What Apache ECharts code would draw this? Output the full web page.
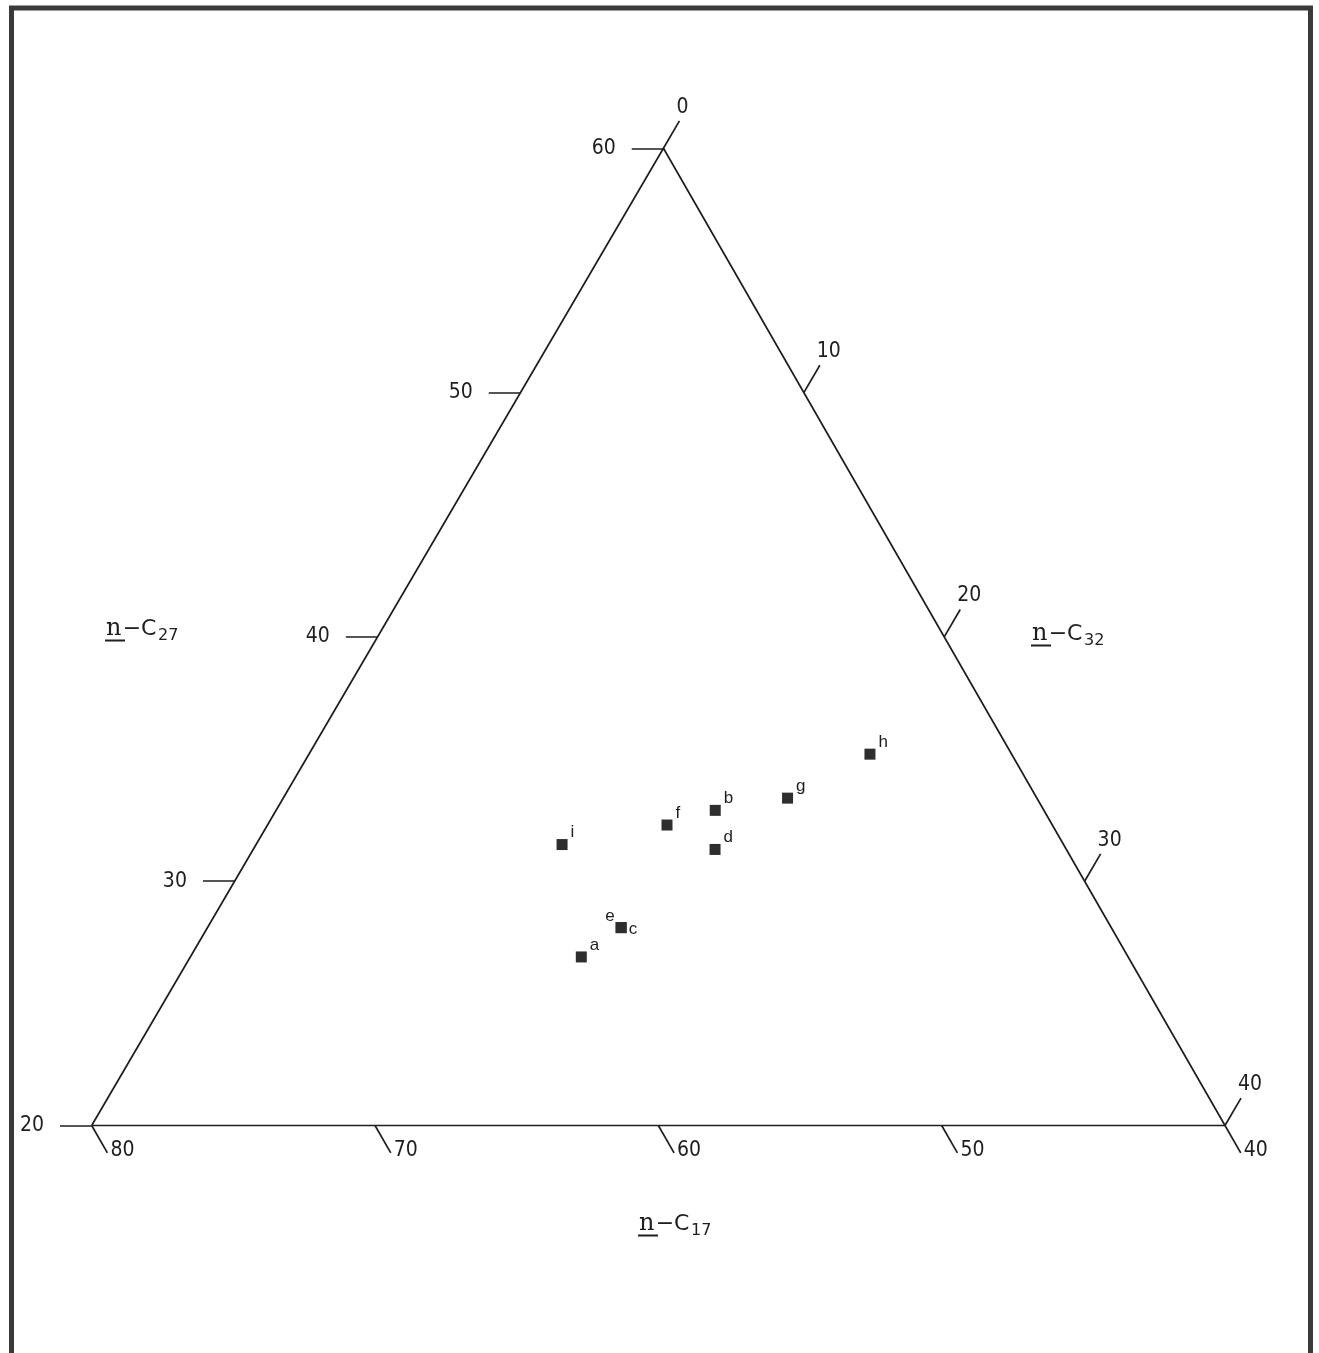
<!DOCTYPE html>
<html>
<head>
<meta charset="utf-8">
<title>Ternary plot n-C17 / n-C27 / n-C32</title>
<script src="https://cdn.jsdelivr.net/npm/echarts@6/dist/echarts.min.js"></script>
<style>
  html, body { margin: 0; padding: 0; background: #fff; }
  #chart { width: 1319px; height: 1353px; }
</style>
</head>
<body>
<div id="chart"></div>
<script>
// sample composition (% of n-C17 + n-C27 + n-C32)
var sampleNames = ['a', 'b', 'c', 'd', 'e', 'f', 'g', 'h', 'i'];
var c17 = [59.3, 51.6, 57.3, 52.4, 57.3, 53.6, 48.8, 45.0, 57.7];
var c27 = [26.9, 32.9, 28.1, 31.3, 28.1, 32.3, 33.4, 35.2, 31.5];
var c32 = [13.8, 15.5, 14.6, 16.3, 14.6, 14.1, 17.8, 19.8, 10.8];

// axis ticks on each side of the triangle
var c17Ticks = [80, 70, 60, 50, 40];
var c27Ticks = [20, 30, 40, 50, 60];
var c32Ticks = [0, 10, 20, 30, 40];

var TICK = 1.12;
var SKEW = 0.5045;   // the printed triangle leans a little to the right
var INK = '#1e1e1e';
var NUM_FONT = "'Liberation Sans Narrow', 'DejaVu Sans Condensed', 'Liberation Sans', sans-serif";

// ternary (c27, c32) -> cartesian; the c17 share is what is left of 100
function toXY(b, c) {
    return [c + (b - 20) * SKEW, b - 20];
}

var edges = [[20, 0], [20, 40], [60, 0], [20, 0]].map(function (p) {
    return toXY(p[0], p[1]);
});

var tickLines = [];
var c17Labels = [], c27Labels = [], c32Labels = [];
c17Ticks.forEach(function (v) {
    var end = toXY(20 - TICK, 80 - v + TICK);
    tickLines.push({ coords: [toXY(20, 80 - v), end] });
    c17Labels.push({ name: String(v), value: end });
});
c27Ticks.forEach(function (v) {
    var end = toXY(v, -TICK);
    tickLines.push({ coords: [toXY(v, 0), end] });
    c27Labels.push({ name: String(v), value: end });
});
c32Ticks.forEach(function (v) {
    var end = toXY(60 - v + TICK, v);
    tickLines.push({ coords: [toXY(60 - v, v), end] });
    c32Labels.push({ name: String(v), value: end });
});

var labelTweaks = {
    c: { position: 'right', distance: 2, offset: [0, 2] },
    e: { position: 'left', distance: 1, offset: [0, -11] }
};
var samples = sampleNames.map(function (n, i) {
    var item = { name: n, value: toXY(c27[i], c32[i]) };
    if (labelTweaks[n]) item.label = labelTweaks[n];
    return item;
});

function tickLabelSeries(data, label) {
    return {
        type: 'scatter',
        data: data,
        symbolSize: 0,
        silent: true,
        itemStyle: { color: 'transparent', opacity: 1 },
        label: Object.assign({
            show: true,
            formatter: '{b}',
            color: INK,
            fontSize: 21,
            fontFamily: NUM_FONT
        }, label)
    };
}

// axis titles: underlined n, dash, C, subscript number
function axisTitle(x, base, sub) {
    return [
        { type: 'text', x: x, y: base - 8.3, silent: true,
          style: { text: 'n', fill: INK, font: "24px 'DejaVu Serif', serif", verticalAlign: 'middle' } },
        { type: 'line', silent: true,
          shape: { x1: x - 1, y1: base + 3.5, x2: x + 19, y2: base + 3.5 },
          style: { stroke: INK, lineWidth: 2 } },
        { type: 'text', x: x + 16.7, y: base - 7.6, silent: true,
          style: { text: '\u2212', fill: INK, font: "22px 'DejaVu Sans', sans-serif", verticalAlign: 'middle' } },
        { type: 'text', x: x + 35, y: base - 7.6, silent: true,
          style: { text: 'C', fill: INK, font: "22px 'DejaVu Sans', sans-serif", verticalAlign: 'middle' } },
        { type: 'text', x: x + 52, y: base - 1.5, silent: true,
          style: { text: sub, fill: INK, font: "16px 'DejaVu Sans', sans-serif", verticalAlign: 'middle' } }
    ];
}

document.addEventListener('DOMContentLoaded', function () {
    var myChart = echarts.init(document.getElementById('chart'), null, { renderer: 'canvas' });

    var graphics = [{
        type: 'rect', silent: true,
        shape: { x: 11.5, y: 8, width: 1299, height: 1400 },
        style: { fill: 'none', stroke: '#3a3a3a', lineWidth: 5 }
    }].concat(axisTitle(106, 637, '27'), axisTitle(1032, 642, '32'), axisTitle(639, 1232, '17'));

    myChart.setOption({
        animation: false,
        backgroundColor: '#fff',
        graphic: graphics,
        grid: { left: 6.7, top: 75, width: 1303.3, height: 1123.8 },
        xAxis: { type: 'value', min: -3, max: 43, show: false },
        yAxis: { type: 'value', min: -3, max: 43, show: false },
        series: [
            {
                type: 'line',
                data: edges,
                symbol: 'none',
                silent: true,
                lineStyle: { color: INK, width: 1.7 }
            },
            {
                type: 'lines',
                coordinateSystem: 'cartesian2d',
                data: tickLines,
                silent: true,
                lineStyle: { color: INK, width: 1.7, opacity: 1, curveness: 0 }
            },
            tickLabelSeries(c17Labels, { position: 'right', distance: 3, verticalAlign: 'bottom', offset: [0, 8] }),
            tickLabelSeries(c27Labels, { position: 'left', distance: 16 }),
            tickLabelSeries(c32Labels, { position: 'top', distance: 3, align: 'left', offset: [-3, 0] }),
            {
                type: 'scatter',
                data: samples,
                symbol: 'rect',
                symbolSize: 11,
                itemStyle: { color: '#2e2e2e', opacity: 1 },
                label: {
                    show: true,
                    formatter: '{b}',
                    position: 'right',
                    distance: 3,
                    offset: [0, -12],
                    color: INK,
                    fontSize: 17,
                    fontFamily: "'Liberation Sans', Arial, sans-serif"
                }
            }
        ]
    });
});
</script>
</body>
</html>
